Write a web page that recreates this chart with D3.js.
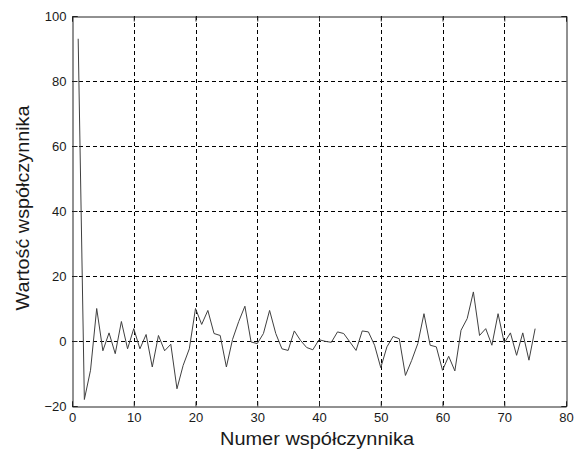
<!DOCTYPE html>
<html lang="pl">
<head>
<meta charset="utf-8">
<title>Wartość współczynnika</title>
<script src="https://cdn.jsdelivr.net/npm/d3@7"></script>
<style>
  body { margin: 0; background: #fff; }
  svg text { font-family: "Liberation Sans", Arial, sans-serif; fill: #1a1a1a; }
</style>
</head>
<body>
<svg id="chart" width="578" height="452"></svg>
<script>
// numer współczynnika 1..75
var values = [93, -18, -9, 10, -3, 2.5, -3.9, 6, -2.4, 3.8,
              -2.4, 2, -8, 1.7, -3, -1, -14.7, -7.5, -2.4, 10,
              5.1, 9.4, 2.3, 1.7, -8, 0.5, 6, 10.7, -0.3, -0.8,
              2.3, 9.4, 2.3, -2.4, -2.9, 3.1, 0.2, -2, -2.7, 0.4,
              -0.1, -0.4, 2.8, 2.3, -0.3, -2.9, 3.1, 2.8, -1.3, -8.2,
              -1.8, 1.4, 0.7, -10.6, -6, -0.8, 8.4, -1.3, -1.8, -9,
              -4.7, -9.2, 3.3, 6.9, 15.1, 1.7, 3.8, -1.3, 8.4, -0.6,
              2.5, -4.4, 2.5, -5.9, 3.8];
var xTicks = [0, 10, 20, 30, 40, 50, 60, 70, 80];
var yTicks = [-20, 0, 20, 40, 60, 80, 100];

var svg = d3.select("#chart");
var mLeft = 72, mTop = 16, mRight = 566, mBottom = 406;

var x = d3.scaleLinear().domain([0, 80]).range([mLeft, mRight]);
var y = d3.scaleLinear().domain([-20, 100]).range([mBottom, mTop]);

// siatka
svg.append("g").selectAll("line").data(xTicks.slice(1, -1)).enter().append("line")
    .attr("x1", d => Math.round(x(d)) + 0.5).attr("x2", d => Math.round(x(d)) + 0.5)
    .attr("y1", mTop).attr("y2", mBottom)
    .attr("stroke", "#000").attr("stroke-dasharray", "4,3");
svg.append("g").selectAll("line").data(yTicks.slice(1, -1)).enter().append("line")
    .attr("y1", d => Math.round(y(d)) + 0.5).attr("y2", d => Math.round(y(d)) + 0.5)
    .attr("x1", mLeft).attr("x2", mRight)
    .attr("stroke", "#000").attr("stroke-dasharray", "4,3");

// dane
var line = d3.line().x((d, i) => x(i + 1)).y(d => y(d));
svg.append("path").datum(values)
    .attr("d", line)
    .attr("fill", "none")
    .attr("stroke", "#404040")
    .attr("stroke-width", 1);

// osie
var tickLen = 5;
svg.append("g").attr("transform", "translate(0," + (mBottom + 0.5) + ")")
    .call(d3.axisBottom(x).tickValues(xTicks).tickSize(-tickLen).tickPadding(6));
svg.append("g").attr("transform", "translate(0," + (mTop + 0.5) + ")")
    .call(d3.axisTop(x).tickValues(xTicks).tickSize(-tickLen).tickFormat(""));
svg.append("g").attr("transform", "translate(" + (mLeft + 0.5) + ",0)")
    .call(d3.axisLeft(y).tickValues(yTicks).tickSize(-tickLen).tickPadding(6));
svg.append("g").attr("transform", "translate(" + (mRight + 0.5) + ",0)")
    .call(d3.axisRight(y).tickValues(yTicks).tickSize(-tickLen).tickFormat(""));

svg.selectAll(".domain").attr("stroke", "#222");
svg.selectAll(".tick line").attr("stroke", "#222");
svg.selectAll(".tick text")
    .style("font-size", "13px")
    .style("font-family", "'Liberation Sans', Arial, sans-serif")
    .attr("fill", "#1a1a1a");

// tytuły osi
svg.append("text")
    .attr("x", 317)
    .attr("y", 445)
    .attr("text-anchor", "middle")
    .attr("textLength", 194)
    .attr("lengthAdjust", "spacingAndGlyphs")
    .style("font-size", "17.5px")
    .text("Numer współczynnika");
svg.append("text")
    .attr("transform", "translate(29,208) rotate(-90)")
    .attr("text-anchor", "middle")
    .attr("textLength", 205)
    .attr("lengthAdjust", "spacingAndGlyphs")
    .style("font-size", "17.5px")
    .text("Wartość współczynnika");
</script>
</body>
</html>
